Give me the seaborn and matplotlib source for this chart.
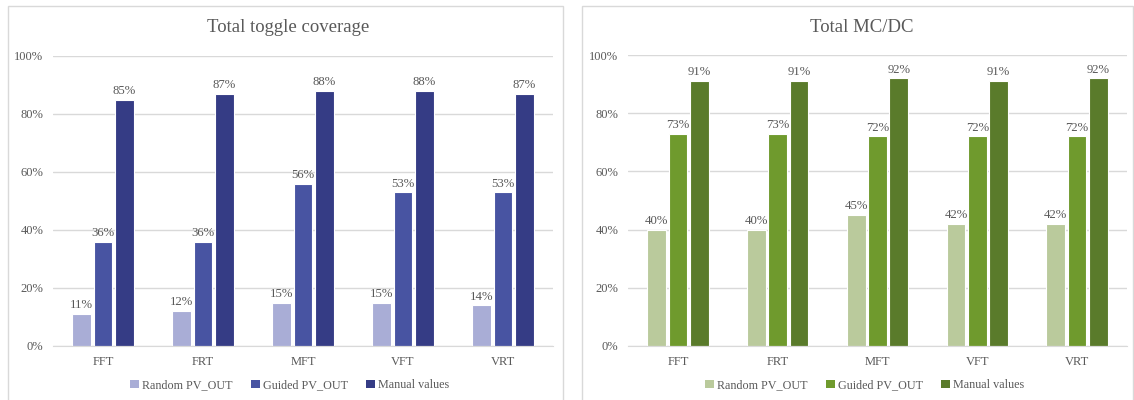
import matplotlib
matplotlib.use("Agg")
import matplotlib.pyplot as plt
from matplotlib.patches import Rectangle, Patch
from matplotlib.ticker import FuncFormatter, MultipleLocator
import seaborn as sns
import pandas as pd

categories = ["FFT", "FRT", "MFT", "VFT", "VRT"]
series = ["Random PV_OUT", "Guided PV_OUT", "Manual values"]

toggle_random = [11, 12, 15, 15, 14]
toggle_guided = [36, 36, 56, 53, 53]
toggle_manual = [85, 87, 88, 88, 87]

mcdc_random = [40, 40, 45, 42, 42]
mcdc_guided = [73, 73, 72, 72, 72]
mcdc_manual = [91, 91, 92, 91, 92]

toggle_colors = ["#A9ADD6", "#4854A2", "#353C85"]
mcdc_colors = ["#BACA9C", "#6F9A2D", "#5A7B2B"]

sns.set_style("white")
plt.rcParams["font.family"] = ["Liberation Serif", "DejaVu Serif"]
TXT = "#595959"

fig = plt.figure(figsize=(11.34, 4.0), dpi=100)
W, H = 1134, 400


def px_rect(x0, y0, x1, y1):
    return [x0 / W, 1 - y1 / H, (x1 - x0) / W, (y1 - y0) / H]


# panel borders
for (x0, x1) in [(8, 563), (582, 1133)]:
    fig.patches.append(Rectangle((x0 / W, -0.01), (x1 - x0) / W, 1 - 6 / H + 0.01,
                                 transform=fig.transFigure, fill=False,
                                 edgecolor="#D9D9D9", linewidth=1.0))


def draw(ax, vals, colors, title, title_x, legend_x):
    df = pd.DataFrame({
        "cat": categories * 3,
        "series": sum([[s] * len(categories) for s in series], []),
        "val": vals[0] + vals[1] + vals[2],
    })
    sns.barplot(data=df, x="cat", y="val", hue="series", hue_order=series,
                palette=colors, saturation=1, width=0.64, gap=0.12,
                edgecolor="white", linewidth=0.8, ax=ax, legend=False,
                errorbar=None)
    for cont in ax.containers:
        ax.bar_label(cont, labels=[f"{b.get_height():.0f}%" for b in cont],
                     padding=2, fontsize=9.2, color=TXT)
    ax.set_ylim(0, 100)
    ax.set_xlim(-0.5, 4.5)
    ax.yaxis.set_major_locator(MultipleLocator(20))
    ax.yaxis.set_major_formatter(FuncFormatter(lambda v, p: f"{v:.0f}%"))
    ax.grid(axis="y", color="#D9D9D9", linewidth=1.0)
    ax.set_axisbelow(True)
    for s in ["top", "right", "left"]:
        ax.spines[s].set_visible(False)
    ax.spines["bottom"].set_color("#D9D9D9")
    ax.tick_params(axis="both", length=0, labelsize=9, colors=TXT)
    ax.tick_params(axis="y", pad=7)
    ax.tick_params(axis="x", pad=7)
    ax.set_xlabel("")
    ax.set_ylabel("")
    fig.text(title_x / W, 1 - 28 / H, title, ha="center", va="center",
             fontsize=13.5, color=TXT)
    handles = [Patch(facecolor=c, edgecolor="none") for c in colors]
    fig.legend(handles, series, loc="center", bbox_to_anchor=(legend_x / W, 1 - 385 / H),
               ncol=3, frameon=False, handlelength=0.7, handleheight=0.7,
               handletextpad=0.3, columnspacing=1.5, fontsize=8.7,
               labelcolor=TXT)


ax1 = fig.add_axes(px_rect(53, 56, 553, 346))
draw(ax1, [toggle_random, toggle_guided, toggle_manual], toggle_colors,
     "Total toggle coverage", 288, 290)

ax2 = fig.add_axes(px_rect(628, 55, 1127, 346))
draw(ax2, [mcdc_random, mcdc_guided, mcdc_manual], mcdc_colors,
     "Total MC/DC", 862, 865)

fig.savefig("out.png", dpi=100, facecolor="white")
